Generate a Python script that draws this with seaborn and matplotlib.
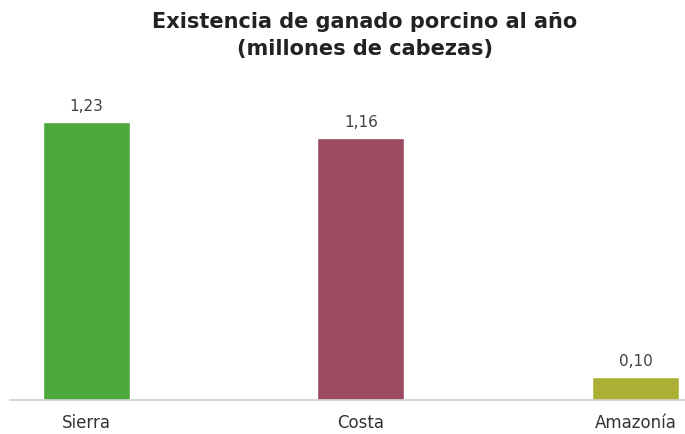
import matplotlib
matplotlib.use("Agg")
import matplotlib.pyplot as plt
import seaborn as sns
import pandas as pd

regions = ["Sierra", "Costa", "Amazonía"]
values = [1.23, 1.16, 0.10]
labels = ["1,23", "1,16", "0,10"]
colors = ["#4ea93c", "#9b4a5f", "#abb035"]

sns.set_theme(style="white")
plt.rcParams['font.family'] = ['DejaVu Sans']

df = pd.DataFrame({"region": regions, "value": values})

fig = plt.figure(figsize=(6.85, 4.34), dpi=100)
ax = fig.add_axes([10/685, 34/434, 675/685, 339/434])
sns.barplot(data=df, x="region", y="value", hue="region", palette=colors,
            width=0.317, legend=False, ax=ax, saturation=1)

for i, (v, lab) in enumerate(zip(values, labels)):
    ax.text(i, v + 0.035, lab, ha="center", va="bottom", fontsize=11, color="#404040")

ax.set_xlim(-0.277, 2.18)
ax.set_ylim(0, 1.5)
ax.set_yticks([])
ax.set_xlabel("")
ax.set_ylabel("")
for s in ["top", "right", "left"]:
    ax.spines[s].set_visible(False)
ax.spines["bottom"].set_color("#d0d0d0")
ax.spines["bottom"].set_linewidth(1.2)
ax.tick_params(axis="x", length=0, labelsize=12, colors="#333333", pad=10)

fig.text(0.533, 0.972, "Existencia de ganado porcino al año\n(millones de cabezas)",
         ha="center", va="top", fontsize=15, fontweight="bold", color="#222222",
         linespacing=1.45)

fig.savefig("out.png", dpi=100, facecolor="white")
